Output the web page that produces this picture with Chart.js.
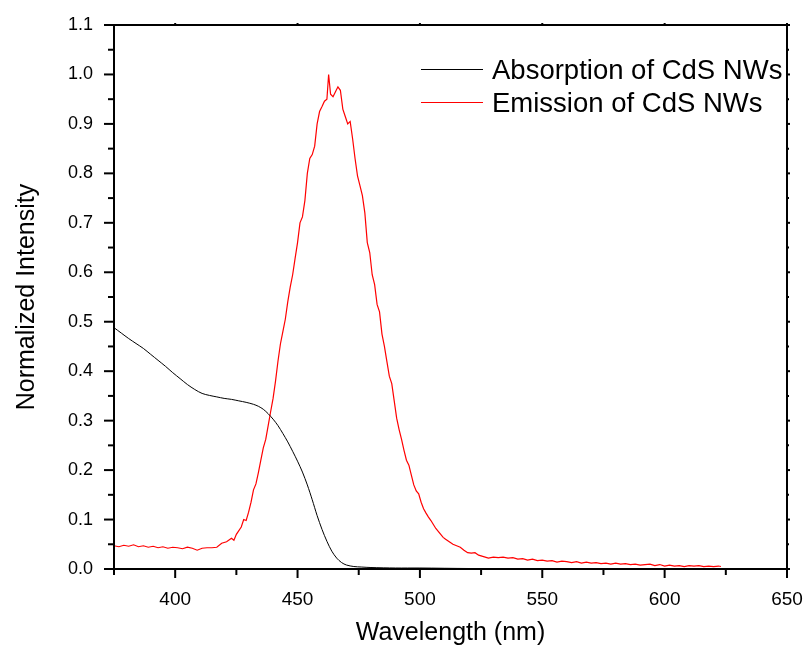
<!DOCTYPE html>
<html>
<head>
<meta charset="utf-8">
<script src="https://cdn.jsdelivr.net/npm/chart.js@4"></script>
<style>
  html, body { margin: 0; padding: 0; background: #fff; }
  #grafico { display: block; }
</style>
</head>
<body>
<canvas id="grafico" width="808" height="653"></canvas>
<script>
// Absorption (black)
const absX = [375, 378, 381, 384, 387, 390, 393, 396, 399, 402, 405, 408, 411, 414, 417, 420, 423, 426, 429, 432, 434, 436, 438, 440, 442, 444, 446, 448, 450, 452, 454, 456, 458, 460, 462, 464, 466, 468, 470, 473, 476, 480, 490, 500, 520, 550, 600, 650];
const absY = [0.488, 0.477, 0.466, 0.456, 0.446, 0.434, 0.422, 0.410, 0.397, 0.385, 0.373, 0.363, 0.355, 0.351, 0.348, 0.345, 0.343, 0.340, 0.337, 0.333, 0.329, 0.323, 0.314, 0.303, 0.290, 0.274, 0.257, 0.238, 0.218, 0.196, 0.170, 0.140, 0.108, 0.080, 0.056, 0.036, 0.022, 0.013, 0.008, 0.005, 0.004, 0.003, 0.002, 0.002, 0.001, 0.001, 0.0005, 0];

// Emission (red)
const emX = [375, 377, 379, 381, 383, 385, 387, 389, 391, 393, 395, 397, 399, 401, 403, 405, 407, 409, 411, 413, 415, 417, 419, 421, 423, 424, 425, 427, 428, 429, 430, 431, 432, 433, 434, 435, 436, 437, 438, 439, 440, 441, 442, 443, 444, 445, 446, 447, 448, 449, 450, 451, 452, 453, 454, 455, 456, 457, 458, 459, 460, 461, 462, 462.7, 463.5, 464.5, 465.5, 466.5, 467.5, 468.5, 469.5, 470.5, 471.5, 472.5, 473.5, 474.5, 475.5, 476.5, 477.5, 478.5, 479.5, 480.5, 481.5, 482.5, 483.5, 484.5, 485.5, 486.5, 487.5, 488.5, 489.5, 490.5, 491.5, 492.5, 493.5, 494.5, 495.5, 496.5, 497.5, 498.5, 499.5, 500.5, 501.5, 502.5, 503.5, 504.5, 505.5, 506.5, 507.5, 508.5, 509.5, 510.5, 512, 513.5, 515, 516.5, 518, 519.5, 521, 522.5, 524, 526, 528, 530, 532, 534, 536, 538, 540, 542, 544, 546, 548, 550, 552, 554, 556, 558, 560, 562, 564, 566, 568, 570, 572, 574, 576, 578, 580, 582, 584, 586, 588, 590, 592, 594, 596, 598, 600, 602, 604, 606, 608, 610, 612, 614, 616, 618, 620, 622, 623];
const emY = [0.047, 0.045, 0.048, 0.046, 0.049, 0.045, 0.047, 0.044, 0.046, 0.043, 0.045, 0.042, 0.044, 0.043, 0.041, 0.044, 0.042, 0.038, 0.042, 0.043, 0.043, 0.044, 0.052, 0.055, 0.062, 0.058, 0.070, 0.085, 0.100, 0.098, 0.115, 0.135, 0.160, 0.172, 0.195, 0.220, 0.245, 0.262, 0.290, 0.318, 0.345, 0.380, 0.420, 0.455, 0.480, 0.505, 0.540, 0.570, 0.595, 0.628, 0.660, 0.700, 0.712, 0.745, 0.800, 0.830, 0.838, 0.855, 0.900, 0.925, 0.935, 0.946, 0.950, 1.000, 0.960, 0.955, 0.965, 0.975, 0.968, 0.930, 0.915, 0.900, 0.905, 0.870, 0.830, 0.795, 0.775, 0.755, 0.720, 0.660, 0.640, 0.595, 0.575, 0.535, 0.520, 0.475, 0.450, 0.420, 0.390, 0.375, 0.340, 0.305, 0.282, 0.262, 0.240, 0.220, 0.210, 0.190, 0.170, 0.158, 0.152, 0.135, 0.122, 0.113, 0.105, 0.098, 0.090, 0.082, 0.076, 0.070, 0.064, 0.060, 0.055, 0.050, 0.047, 0.044, 0.038, 0.033, 0.032, 0.033, 0.028, 0.025, 0.022, 0.024, 0.023, 0.024, 0.022, 0.023, 0.020, 0.021, 0.018, 0.020, 0.017, 0.018, 0.016, 0.017, 0.014, 0.016, 0.015, 0.013, 0.015, 0.012, 0.014, 0.012, 0.013, 0.011, 0.012, 0.010, 0.012, 0.010, 0.011, 0.009, 0.010, 0.008, 0.009, 0.010, 0.007, 0.009, 0.006, 0.008, 0.006, 0.007, 0.005, 0.007, 0.006, 0.007, 0.005, 0.006, 0.005, 0.006, 0.005];

// Ticks
const xTicks = [400, 450, 500, 550, 600, 650];
const xMinor = [375, 425, 475, 525, 575, 625];
const yTicks = [0, 0.1, 0.2, 0.3, 0.4, 0.5, 0.6, 0.7, 0.8, 0.9, 1.0, 1.1];
const yMinor = [0.05, 0.15, 0.25, 0.35, 0.45, 0.55, 0.65, 0.75, 0.85, 0.95, 1.05];

const FONT = "'Liberation Sans', Arial, sans-serif";

function toPoints(xs, ys) {
    return xs.map((x, i) => ({ x: x, y: ys[i] }));
}

// Frame, tick marks and legend in Origin style
const marco = {
    id: 'marco',
    afterDraw(chart) {
        const { ctx, chartArea: a, scales } = chart;
        const sx = scales.x, sy = scales.y;
        ctx.save();
        ctx.strokeStyle = '#000';
        ctx.lineWidth = 2;
        ctx.strokeRect(a.left, a.top, a.right - a.left, a.bottom - a.top);

        const tick = (x1, y1, x2, y2) => {
            ctx.beginPath(); ctx.moveTo(x1, y1); ctx.lineTo(x2, y2); ctx.stroke();
        };
        xTicks.forEach(v => {
            const px = sx.getPixelForValue(v);
            tick(px, a.bottom, px, a.bottom + 9);
            tick(px, a.top, px, a.top - 2);
        });
        xMinor.forEach(v => {
            const px = sx.getPixelForValue(v);
            tick(px, a.bottom, px, a.bottom + 6);
            tick(px, a.top, px, a.top - 1);
        });
        yTicks.forEach(v => {
            const py = sy.getPixelForValue(v);
            tick(a.left, py, a.left - 10, py);
            tick(a.right, py, a.right + 3, py);
        });
        yMinor.forEach(v => {
            const py = sy.getPixelForValue(v);
            tick(a.left, py, a.left - 6, py);
            tick(a.right, py, a.right + 2, py);
        });

        // legend
        ctx.font = '27.5px ' + FONT;
        ctx.textBaseline = 'alphabetic';
        ctx.textAlign = 'left';
        chart.data.datasets.forEach((ds, i) => {
            const y = 69 + i * 33;
            ctx.strokeStyle = ds.borderColor;
            ctx.lineWidth = 1;
            tick(421, y + 0.5, 483, y + 0.5);
            ctx.fillStyle = '#000';
            ctx.fillText(ds.label, 492, y + 10);
        });
        ctx.restore();
    }
};

const ctx = document.getElementById('grafico').getContext('2d');
new Chart(ctx, {
    type: 'line',
    data: {
        datasets: [{
            label: 'Absorption of CdS NWs',
            data: toPoints(absX, absY),
            borderColor: '#000000',
            borderWidth: 1,
            pointRadius: 0,
            tension: 0.3
        }, {
            label: 'Emission of CdS NWs',
            data: toPoints(emX, emY),
            borderColor: '#ff0000',
            borderWidth: 1.2,
            pointRadius: 0,
            tension: 0
        }]
    },
    options: {
        responsive: false,
        animation: false,
        layout: { padding: { top: 25, right: 21, left: 0, bottom: 0 } },
        plugins: {
            legend: { display: false },
            tooltip: { enabled: false }
        },
        scales: {
            x: {
                type: 'linear',
                min: 375,
                max: 650,
                afterBuildTicks: s => { s.ticks = xTicks.map(v => ({ value: v })); },
                afterFit: s => { s.height = 84; s.paddingLeft = 0; s.paddingRight = 0; },
                grid: { display: false, drawTicks: false },
                border: { display: false },
                ticks: {
                    color: '#000',
                    padding: 19,
                    font: { family: FONT, size: 19 },
                    callback: v => String(v)
                },
                title: {
                    display: true,
                    text: 'Wavelength (nm)',
                    color: '#000',
                    font: { family: FONT, size: 25 },
                    padding: { top: 0, bottom: 5 }
                }
            },
            y: {
                type: 'linear',
                min: 0,
                max: 1.1,
                afterBuildTicks: s => { s.ticks = yTicks.map(v => ({ value: v })); },
                afterFit: s => { s.width = 114; s.paddingTop = 0; s.paddingBottom = 0; },
                grid: { display: false, drawTicks: false },
                border: { display: false },
                ticks: {
                    color: '#000',
                    padding: 21,
                    font: { family: FONT, size: 18 },
                    callback: v => Number(v).toFixed(1)
                },
                title: {
                    display: true,
                    text: 'Normalized Intensity',
                    color: '#000',
                    font: { family: FONT, size: 25 },
                    padding: { top: 12, bottom: 0 }
                }
            }
        }
    },
    plugins: [marco]
});
</script>
</body>
</html>
